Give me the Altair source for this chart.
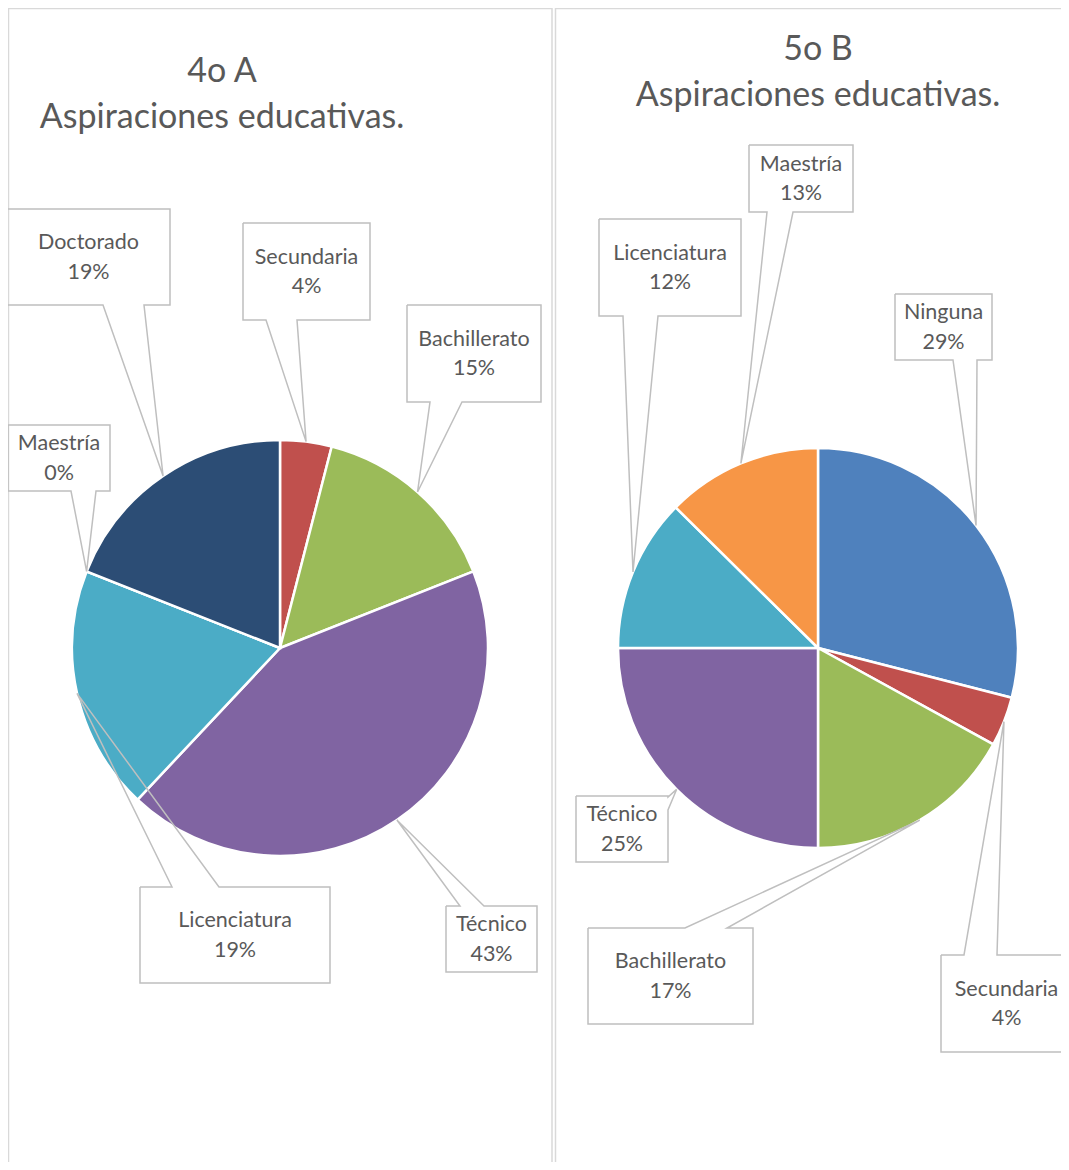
import math
import altair as alt
import pandas as pd

W, H = 1053, 1154
OFF = 8  # page margin: reference pixel -> chart pixel

# ---------------- data ----------------
titles_a = ["4o A", "Aspiraciones educativas."]
titles_b = ["5o B", "Aspiraciones educativas."]

cats_a = ["Secundaria", "Bachillerato", "Técnico", "Licenciatura", "Maestría", "Doctorado"]
vals_a = [4, 15, 43, 19, 0, 19]

cats_b = ["Ninguna", "Secundaria", "Bachillerato", "Técnico", "Licenciatura", "Maestría"]
vals_b = [29, 4, 17, 25, 12.4, 12.6]

palette_cats = ["Ninguna", "Secundaria", "Bachillerato", "Técnico", "Licenciatura", "Maestría", "Doctorado"]
palette_cols = ["#4F81BD", "#C0504D", "#9BBB59", "#8064A2", "#4BACC6", "#F79646", "#2C4D75"]

# ---------------- layout (reference pixels) ----------------
pies = {"A": dict(cx=280, cy=648, r=208, tx=222, ty=(72, 118)),
        "B": dict(cx=818, cy=648, r=200, tx=818, ty=(50, 96))}

# callout boxes: x0, y0, x1, y1, side where pointer attaches, two base coords on that side
callouts = {
    ("A", "Doctorado"): (7, 209, 170, 305, "bottom", (103, 144)),
    ("A", "Secundaria"): (243, 223, 370, 320, "bottom", (266, 297)),
    ("A", "Bachillerato"): (407, 305, 541, 402, "bottom", (430, 462)),
    ("A", "Maestría"): (8, 425, 110, 491, "bottom", (71, 96)),
    ("A", "Licenciatura"): (140, 887, 330, 983, "top", (172, 219)),
    ("A", "Técnico"): (446, 906, 537, 972, "top", (460, 484)),
    ("B", "Maestría"): (749, 145, 853, 212, "bottom", (767, 793)),
    ("B", "Licenciatura"): (599, 219, 741, 316, "bottom", (623, 658)),
    ("B", "Ninguna"): (895, 294, 992, 360, "bottom", (953, 977)),
    ("B", "Secundaria"): (941, 955, 1072, 1052, "top", (964, 997)),
    ("B", "Bachillerato"): (588, 928, 753, 1024, "top", (685, 727)),
    ("B", "Técnico"): (576, 796, 668, 862, "right", (797, 810)),
}

TEXT_COLOR = "#595959"
BOX_COLOR = "#BFBFBF"
BORDER_COLOR = "#D9D9D9"
FONT = "Lato"

# ---------------- derived tables ----------------
slice_rows, tips = [], {}
for pie, cats, vals in (("A", cats_a, vals_a), ("B", cats_b, vals_b)):
    total = sum(vals)
    cum = 0.0
    p = pies[pie]
    for i, (c, v) in enumerate(zip(cats, vals)):
        mid = (cum + v / 2) / total * 2 * math.pi
        cum += v
        tips[(pie, c)] = (p["cx"] + p["r"] * math.sin(mid), p["cy"] - p["r"] * math.cos(mid))
        slice_rows.append(dict(pie=pie, cat=c, val=v, idx=i,
                               pct=f"{round(v / total * 100)}%"))
slices = pd.DataFrame(slice_rows)

path_rows, text_rows = [], []
for cid, ((pie, cat), (x0, y0, x1, y1, side, (b1, b2))) in enumerate(callouts.items()):
    tx, ty = tips[(pie, cat)]
    if side == "top":
        pts = [(x0, y0), (b1, y0), (tx, ty), (b2, y0), (x1, y0), (x1, y1), (x0, y1), (x0, y0)]
    elif side == "bottom":
        pts = [(x0, y0), (x1, y0), (x1, y1), (b2, y1), (tx, ty), (b1, y1), (x0, y1), (x0, y0)]
    else:  # right
        pts = [(x0, y0), (x1, y0), (x1, b1), (tx, ty), (x1, b2), (x1, y1), (x0, y1), (x0, y0)]
    for k, (px, py) in enumerate(pts):
        path_rows.append(dict(cid=cid, k=k, px=px - OFF, py=py - OFF))
    pct = slices[(slices.pie == pie) & (slices.cat == cat)].pct.iloc[0]
    cx, cy = (x0 + x1) / 2 - OFF, (y0 + y1) / 2 - OFF
    text_rows.append(dict(t=cat, x=cx, y=cy - 14))
    text_rows.append(dict(t=pct, x=cx, y=cy + 15.5))
paths = pd.DataFrame(path_rows)
texts = pd.DataFrame(text_rows)

title_rows = []
for pie, lines in (("A", titles_a), ("B", titles_b)):
    p = pies[pie]
    for line, yy in zip(lines, p["ty"]):
        title_rows.append(dict(t=line, x=p["tx"] - OFF, y=yy - OFF))
titles = pd.DataFrame(title_rows)

borders = pd.DataFrame([
    dict(x=0.5, y=0, x2=0.5, y2=H),
    dict(x=544, y=0, x2=544, y2=H),
    dict(x=547.5, y=0, x2=547.5, y2=H),
    dict(x=0, y=0.5, x2=544, y2=0.5),
    dict(x=547.5, y=0.5, x2=W, y2=0.5),
])

# ---------------- chart ----------------
X = lambda f: alt.X(f, scale=None, axis=None)
Y = lambda f: alt.Y(f, scale=None, axis=None)

border_layer = alt.Chart(borders).mark_rule(color=BORDER_COLOR, strokeWidth=1.5).encode(
    x=X("x:Q"), y=Y("y:Q"), x2="x2:Q", y2="y2:Q")

color = alt.Color("cat:N", scale=alt.Scale(domain=palette_cats, range=palette_cols), legend=None)


def pie_layer(pie):
    p = pies[pie]
    return alt.Chart(slices[slices.pie == pie]).mark_arc(
        radius=p["r"], stroke="white", strokeWidth=2.5).encode(
        theta=alt.Theta("val:Q", stack=True),
        order=alt.Order("idx:Q"),
        color=color,
        x=alt.value(p["cx"] - OFF),
        y=alt.value(p["cy"] - OFF),
    )


callout_layer = alt.Chart(paths).mark_line(color=BOX_COLOR, strokeWidth=1.5).encode(
    x=X("px:Q"), y=Y("py:Q"), order=alt.Order("k:Q"), detail="cid:N")

label_layer = alt.Chart(texts).mark_text(
    font=FONT, fontSize=21.5, color=TEXT_COLOR, align="center", baseline="middle").encode(
    x=X("x:Q"), y=Y("y:Q"), text="t:N")

title_layer = alt.Chart(titles).mark_text(
    font=FONT, fontSize=34, color=TEXT_COLOR, align="center", baseline="middle").encode(
    x=X("x:Q"), y=Y("y:Q"), text="t:N")

chart = alt.layer(
    border_layer, pie_layer("A"), pie_layer("B"), callout_layer, label_layer, title_layer
).resolve_scale(theta="independent").properties(
    width=W, height=H, autosize=alt.AutoSizeParams(type="none"), padding=0
).configure_view(stroke=None)

chart.save("out.html", embed_options={"renderer": "svg", "actions": False})
